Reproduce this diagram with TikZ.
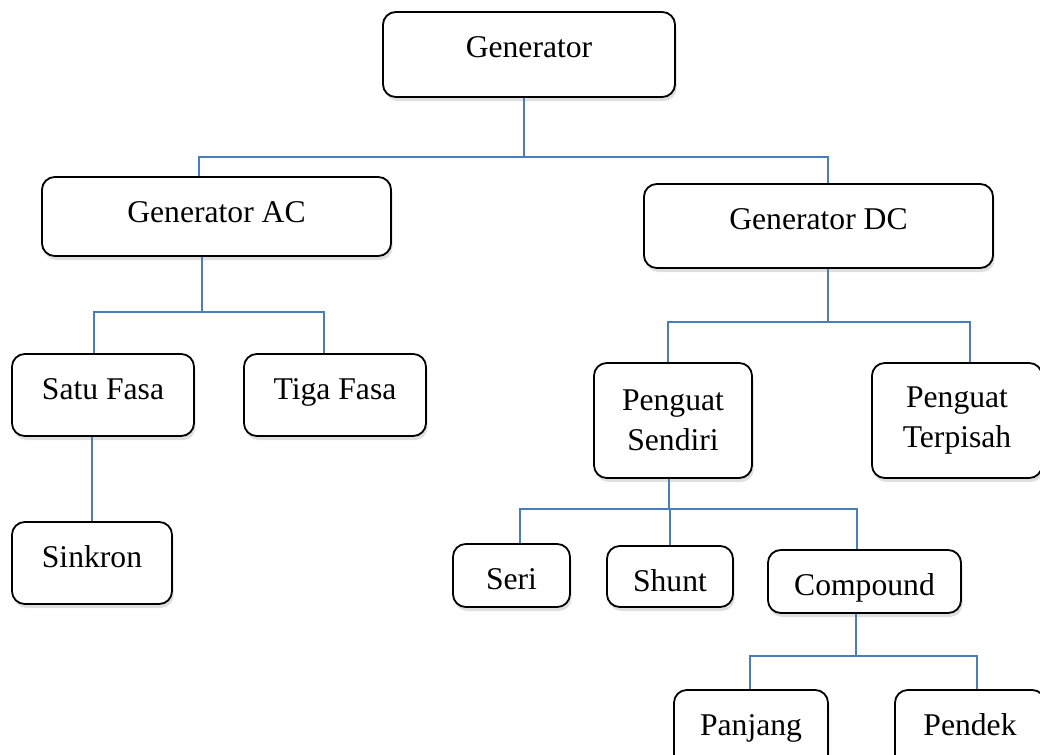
\documentclass[tikz,border=0pt]{standalone}
\usepackage{fontspec}
\setmainfont{Liberation Serif}
\usetikzlibrary{shadows}
\definecolor{linkblue}{RGB}{74,126,187}

\begin{document}
\begin{tikzpicture}[x=0.025cm, y=-0.025cm,
    box/.style={draw=black, line width=1.3pt, rounded corners=0.32cm, fill=white,
      drop shadow={shadow xshift=0.04cm, shadow yshift=-0.1cm, opacity=0.25},
      font=\fontsize{22.5}{28.5}\selectfont, inner xsep=0pt, align=center},
    onerow/.style={box, text height=1.1375cm, text depth=#1, inner ysep=0pt},
    tworow/.style={box, minimum height=2.875cm},
    link/.style={draw=linkblue, line width=1.2pt}]
    \useasboundingbox (0,0) rectangle (1040,755);
    \node[onerow=0.9875cm, minimum width=7.3cm] (gen) at (529,54.5) {Generator};
    \node[onerow=0.8375cm, minimum width=8.725cm] (ac) at (216.5,216.5) {Generator AC};
    \node[onerow=0.9625cm, minimum width=8.725cm] (dc) at (818.5,226) {Generator DC};
    \node[onerow=0.9125cm, minimum width=4.55cm] (satu) at (103,395) {Satu Fasa};
    \node[onerow=0.9125cm, minimum width=4.55cm] (tiga) at (335,395) {Tiga Fasa};
    \node[onerow=0.9125cm, minimum width=4cm] (sinkron) at (92,563) {Sinkron};
    \node[tworow, minimum width=3.95cm] (sendiri) at (673,420.5) {Penguat\\Sendiri};
    \node[tworow, minimum width=4.25cm] (terpisah) at (957,420.5) {Penguat\\Terpisah};
    \node[onerow=0.4375cm, minimum width=2.925cm] (seri) at (511.5,575.5) {Seri};
    \node[onerow=0.3875cm, minimum width=3.15cm] (shunt) at (670,576.5) {Shunt};
    \node[onerow=0.4375cm, minimum width=4.825cm] (compound) at (864.5,581.5) {Compound};
    \node[onerow=0.8625cm, minimum width=3.85cm] (panjang) at (751,730) {Panjang};
    \node[onerow=0.8625cm, minimum width=3.75cm] (pendek) at (970,730) {Pendek};
    \draw[link] ([shift={(-5,0)}]gen.south) -- ++(0,59) coordinate (j0);
    \draw[link] ([shift={(-17.5,0)}]ac.north) |- (j0) -| ([shift={(9.5,0)}]dc.north);
    \draw[link] ([shift={(-14.5,0)}]ac.south) -- ++(0,55) coordinate (j1);
    \draw[link] ([shift={(-9,0)}]satu.north) |- (j1) -| ([shift={(-11,0)}]tiga.north);
    \draw[link] (sinkron.north) -- (sinkron.north |- satu.south);
    \draw[link] ([shift={(9.5,0)}]dc.south) -- ++(0,53) coordinate (j2);
    \draw[link] ([shift={(-5,0)}]sendiri.north) |- (j2) -| ([shift={(13,0)}]terpisah.north);
    \draw[link] ([shift={(-4,0)}]sendiri.south) -- ++(0,30) coordinate (j3);
    \draw[link] ([shift={(8.5,0)}]seri.north) |- (j3) -| ([shift={(-7.5,0)}]compound.north);
    \draw[link] (shunt.north) -- (shunt.north |- j3);
    \draw[link] ([shift={(-8.5,0)}]compound.south) -- ++(0,42) coordinate (j4);
    \draw[link] ([shift={(-1,0)}]panjang.north) |- (j4) -| ([shift={(7,0)}]pendek.north);
\end{tikzpicture}
\end{document}
